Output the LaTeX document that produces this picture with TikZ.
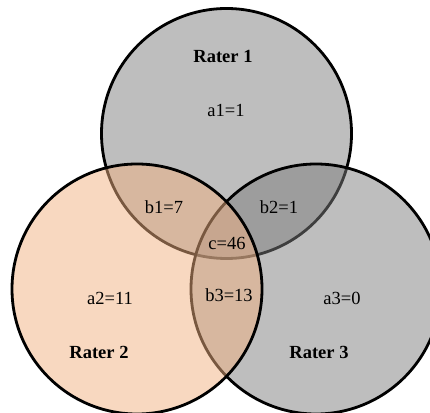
\documentclass[tikz,border=0pt]{standalone}
\usepackage{fontspec}
\setmainfont{Liberation Serif}
\definecolor{grayfill}{RGB}{125,125,125}
\definecolor{peach}{RGB}{241,177,129}
\begin{document}
\begin{tikzpicture}[x=1pt,y=1pt,
  setcircle/.style={circle, minimum size=250pt, inner sep=0pt, draw=black, line width=2.8pt, fill opacity=0.5},
  lab/.style={font=\fontsize{18.5}{20}\selectfont, inner sep=0pt},
  title/.style={font=\fontsize{18.5}{20}\selectfont\bfseries, inner sep=0pt}]
\useasboundingbox (0,0) rectangle (430,412);
\node[setcircle, fill=grayfill] (r1) at (226.5,278.5) {};
\node[setcircle, fill=grayfill] (r3) at (316,123) {};
\node[setcircle, fill=peach] (r2) at (137,123) {};
\node[title] (t1) at (223,356) {Rater 1};
\node[lab] (a1) at (226,302) {a1=1};
\node[lab] (b1) at (164,205) {b1=7};
\node[lab] (b2) at (279,205) {b2=1};
\node[lab] (c) at (227,169) {c=46};
\node[lab] (a2) at (110,114) {a2=11};
\node[lab] (b3) at (229,117) {b3=13};
\node[lab] (a3) at (342,114) {a3=0};
\node[title] (t2) at (99,60) {Rater 2};
\node[title] (t3) at (319,60) {Rater 3};
\end{tikzpicture}
\end{document}
